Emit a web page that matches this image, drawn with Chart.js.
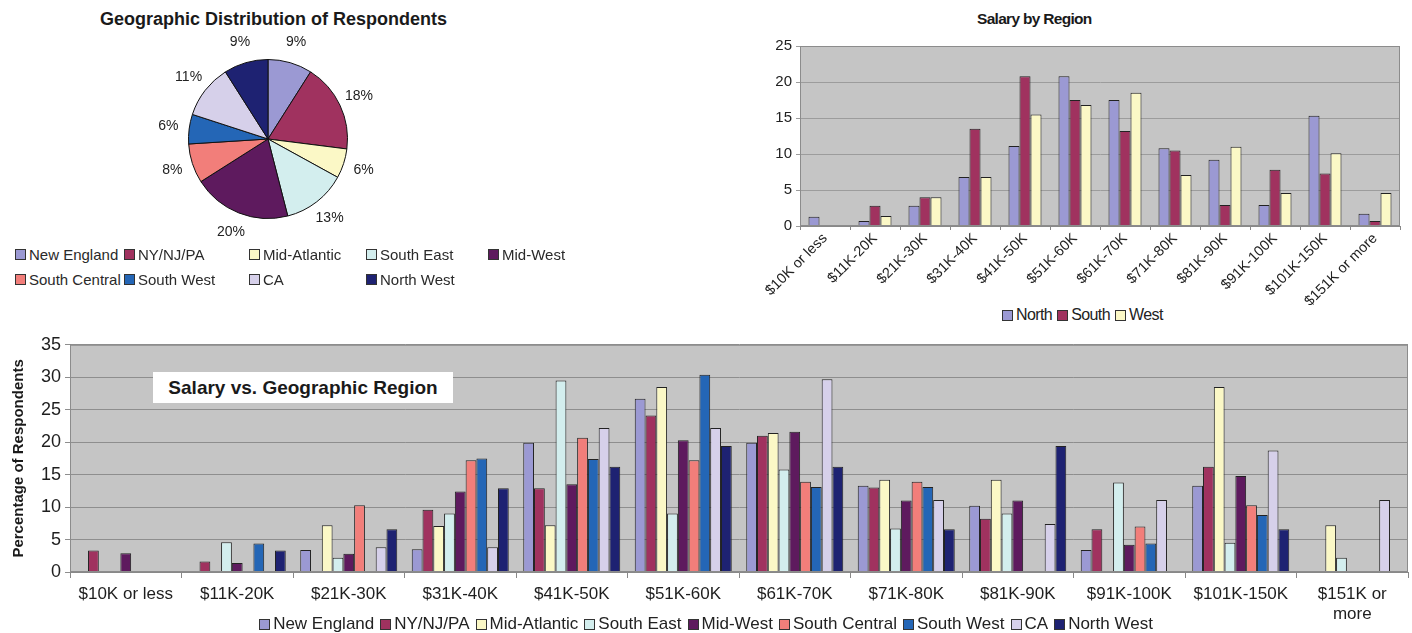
<!DOCTYPE html>
<html>
<head>
<meta charset="utf-8">
<script src="https://cdn.jsdelivr.net/npm/chart.js@4.4.1/dist/chart.umd.min.js"></script>
<style>
  body { margin: 0; background: #fff; font-family: "Liberation Sans", Arial, sans-serif; color: #222; }
  #page { position: relative; width: 1412px; height: 633px; overflow: hidden; }
  canvas { position: absolute; }
  .title { position: absolute; font-weight: bold; white-space: nowrap; color: #1a1a1a; }
  .lg { position: absolute; display: flex; align-items: center; white-space: nowrap; color: #2a2a2a; }
  .box { display: inline-block; width: 9px; height: 9px; border: 1px solid #333; margin-right: 3px; }
  #bottomLegend { position: absolute; left: 0; width: 1412px; top: 614px; display: flex; justify-content: center; font-size: 17px; }
  #bottomLegend span.item { display: flex; align-items: center; margin: 0 3px; }
  #topLegend { position: absolute; left: 1002px; top: 306px; display: flex; font-size: 16px; letter-spacing: -0.6px; }
  #topLegend span.item { display: flex; align-items: center; margin-right: 5px; }
  #boxTitle { position: absolute; left: 153px; top: 372px; width: 300px; height: 31px; background: #fff;
    font-weight: bold; font-size: 19px; line-height: 31px; text-align: center; color: #1a1a1a; }
</style>
</head>
<body>
<div id="page">
  <div class="title" style="left:100px; top:9px; font-size:18px;">Geographic Distribution of Respondents</div>
  <canvas id="pieChart" width="260" height="220" style="left:138px; top:29px; width:260px; height:220px;"></canvas>
  <div id="pieLegend"></div>

  <div class="title" style="left:977px; top:10px; font-size:15.5px; letter-spacing:-0.7px;">Salary by Region</div>
  <canvas id="regionChart" width="682" height="305" style="left:730px; top:0px; width:682px; height:305px;"></canvas>
  <div id="topLegend"></div>

  <canvas id="salaryChart" width="1412" height="290" style="left:0px; top:330px; width:1412px; height:290px;"></canvas>
  <div id="boxTitle">Salary vs. Geographic Region</div>
  <div id="bottomLegend"></div>
</div>

<script>
// salary bands (x categories)
const salaryBands = ['$10K or less', '$11K-20K', '$21K-30K', '$31K-40K', '$41K-50K', '$51K-60K',
  '$61K-70K', '$71K-80K', '$81K-90K', '$91K-100K', '$101K-150K', '$151K or more'];

// pie: share of respondents per region (%)
const regionNames = ['New England', 'NY/NJ/PA', 'Mid-Atlantic', 'South East', 'Mid-West',
  'South Central', 'South West', 'CA', 'North West'];
const regionShares = [9, 18, 6, 13, 20, 8, 6, 11, 9];
const regionColors = ['#9b99d3', '#a0325f', '#fbf8c6', '#d3eeee', '#5e1a5e',
  '#f27e7a', '#2466b6', '#d6d0ea', '#1e2272'];

// salary by broad region
const broadRegions = ['North', 'South', 'West'];
const northPct = [1.3, 0.7, 2.8, 6.8, 11.1, 20.8, 17.5, 10.8, 9.2, 2.9, 15.3, 1.7];
const southPct = [0, 2.8, 4.0, 13.5, 20.8, 17.5, 13.2, 10.5, 2.9, 7.8, 7.3, 0.7];
const westPct = [0, 1.4, 4.0, 6.8, 15.5, 16.8, 18.5, 7.1, 11.0, 4.6, 10.1, 4.6];
const broadColors = ['#9b99d3', '#a0325f', '#fbf8c6'];

// salary vs. each geographic region (% of respondents)
const newEngland   = [0, 0, 3.4, 3.5, 19.9, 26.7, 19.9, 13.3, 10.2, 3.4, 13.3, 0];
const nyNjPa       = [3.3, 1.6, 0, 9.6, 12.9, 24.1, 21.0, 13.0, 8.2, 6.6, 16.2, 0];
const midAtlantic  = [0, 0, 7.2, 7.1, 7.2, 28.5, 21.4, 14.2, 14.2, 0, 28.5, 7.2];
const southEast    = [0, 4.6, 2.2, 9.0, 29.5, 9.0, 15.8, 6.7, 9.0, 13.8, 4.5, 2.2];
const midWest      = [2.9, 1.4, 2.8, 12.4, 13.5, 20.3, 21.6, 11.0, 11.0, 4.2, 14.8, 0];
const southCentral = [0, 0, 10.3, 17.2, 20.7, 17.2, 13.9, 13.9, 0, 7.0, 10.3, 0];
const southWest    = [0, 4.4, 0, 17.5, 17.4, 30.4, 13.1, 13.1, 0, 4.4, 8.8, 0];
const california   = [0, 0, 3.8, 3.8, 22.2, 22.2, 29.7, 11.1, 7.4, 11.1, 18.7, 11.1];
const northWest    = [0, 3.3, 6.6, 12.9, 16.2, 19.4, 16.2, 6.6, 19.4, 0, 6.6, 0];
const regionSeries = [newEngland, nyNjPa, midAtlantic, southEast, midWest, southCentral, southWest, california, northWest];

const FONT = '"Liberation Sans", Arial, sans-serif';
Chart.defaults.font.family = FONT;
Chart.defaults.color = '#222';
Chart.defaults.animation = false;

// grey plot area like the old Excel charts
const plotBackground = {
    id: 'plotBackground',
    beforeDraw(chart) {
        const a = chart.chartArea;
        const c = chart.ctx;
        c.save();
        c.fillStyle = '#c5c5c5';
        c.fillRect(a.left, a.top, a.right - a.left, a.bottom - a.top);
        c.restore();
    },
    afterDraw(chart) {
        const a = chart.chartArea;
        const c = chart.ctx;
        c.save();
        c.strokeStyle = '#8c8c8c';
        c.lineWidth = 1;
        c.strokeRect(a.left + 0.5, a.top + 0.5, a.right - a.left - 1, a.bottom - a.top - 1);
        c.restore();
    }
};

// percent labels outside the slices
const pieLabels = {
    id: 'pieLabels',
    afterDatasetsDraw(chart) {
        const c = chart.ctx;
        const meta = chart.getDatasetMeta(0);
        c.save();
        c.font = '14px ' + FONT;
        c.fillStyle = '#222';
        c.textAlign = 'center';
        c.textBaseline = 'middle';
        meta.data.forEach((arc, i) => {
            const p = arc.getProps(['x', 'y', 'startAngle', 'endAngle', 'outerRadius']);
            const mid = (p.startAngle + p.endAngle) / 2;
            const r = p.outerRadius + 21;
            c.fillText(regionShares[i] + '%', p.x + Math.cos(mid) * r, p.y + Math.sin(mid) * r);
        });
        c.restore();
    }
};

new Chart(document.getElementById('pieChart'), {
    type: 'pie',
    data: {
        labels: regionNames,
        datasets: [{
            data: regionShares,
            backgroundColor: regionColors,
            borderColor: '#111',
            borderWidth: 1
        }]
    },
    options: {
        responsive: false,
        layout: { padding: { left: 50, right: 50, top: 30, bottom: 30 } },
        plugins: { legend: { display: false }, tooltip: { enabled: false } }
    },
    plugins: [pieLabels]
});

// pie legend, laid out in a grid like the picture
const pieLegend = document.getElementById('pieLegend');
const pieLegendCols = [15, 124, 249, 366, 488];
regionNames.forEach((name, i) => {
    const row = i < 5 ? 0 : 1;
    const col = i < 5 ? i : i - 5;
    const el = document.createElement('div');
    el.className = 'lg';
    el.style.left = pieLegendCols[col] + 'px';
    el.style.top = (246 + row * 25) + 'px';
    el.style.fontSize = '15px';
    el.innerHTML = '<span class="box" style="background:' + regionColors[i] + '"></span>' + name;
    pieLegend.appendChild(el);
});

new Chart(document.getElementById('regionChart'), {
    type: 'bar',
    data: {
        labels: salaryBands,
        datasets: [northPct, southPct, westPct].map((d, i) => ({
            label: broadRegions[i],
            data: d,
            backgroundColor: broadColors[i],
            borderColor: '#222',
            borderWidth: 1,
            borderSkipped: 'bottom',
            categoryPercentage: 0.66,
            barPercentage: 1
        }))
    },
    options: {
        responsive: false,
        layout: { padding: { left: 0, right: 12, top: 46, bottom: 0 } },
        plugins: { legend: { display: false }, tooltip: { enabled: false } },
        scales: {
            x: {
                afterFit: s => { s.height = 79; },
                grid: { display: true, drawOnChartArea: false, offset: true, tickLength: 4, color: '#888' },
                border: { color: '#888' },
                ticks: { minRotation: 45, maxRotation: 45, autoSkip: false, padding: 0,
                    font: { size: 14.5 }, color: '#222' }
            },
            y: {
                min: 0, max: 25,
                afterFit: s => { s.width = 70; },
                grid: { color: '#9c9c9c', drawTicks: true, tickLength: 4 },
                border: { color: '#888' },
                ticks: { stepSize: 5, font: { size: 15 }, color: '#222', padding: 4 }
            }
        }
    },
    plugins: [plotBackground]
});

const topLegend = document.getElementById('topLegend');
broadRegions.forEach((name, i) => {
    const s = document.createElement('span');
    s.className = 'item';
    s.innerHTML = '<span class="box" style="background:' + broadColors[i] + '"></span>' + name;
    topLegend.appendChild(s);
});

new Chart(document.getElementById('salaryChart'), {
    type: 'bar',
    data: {
        labels: salaryBands.map(b => b === '$151K or more' ? ['$151K or', 'more'] : b),
        datasets: regionSeries.map((d, i) => ({
            label: regionNames[i],
            data: d,
            backgroundColor: regionColors[i],
            borderColor: '#222',
            borderWidth: 1,
            borderSkipped: 'bottom',
            categoryPercentage: 0.87,
            barPercentage: 1
        }))
    },
    options: {
        responsive: false,
        layout: { padding: { left: 0, right: 4, top: 8, bottom: 0 } },
        plugins: { legend: { display: false }, tooltip: { enabled: false } },
        scales: {
            x: {
                afterFit: s => { s.height = 48; },
                grid: { display: true, drawOnChartArea: false, offset: true, tickLength: 6, color: '#888' },
                border: { color: '#888' },
                ticks: { maxRotation: 0, autoSkip: false, padding: 6, font: { size: 17 }, color: '#1e1e1e' }
            },
            y: {
                min: 0, max: 35,
                afterFit: s => { s.width = 70; },
                title: { display: true, text: 'Percentage of Respondents', font: { size: 15, weight: 'bold' },
                    color: '#1a1a1a', padding: { top: 10, bottom: 0 } },
                grid: { color: '#8e8e8e', tickLength: 5 },
                border: { color: '#888' },
                ticks: { stepSize: 5, font: { size: 18 }, color: '#1e1e1e', padding: 4 }
            }
        }
    },
    plugins: [plotBackground]
});

const bottomLegend = document.getElementById('bottomLegend');
regionNames.forEach((name, i) => {
    const s = document.createElement('span');
    s.className = 'item';
    s.innerHTML = '<span class="box" style="background:' + regionColors[i] + '"></span>' + name;
    bottomLegend.appendChild(s);
});
</script>
</body>
</html>
